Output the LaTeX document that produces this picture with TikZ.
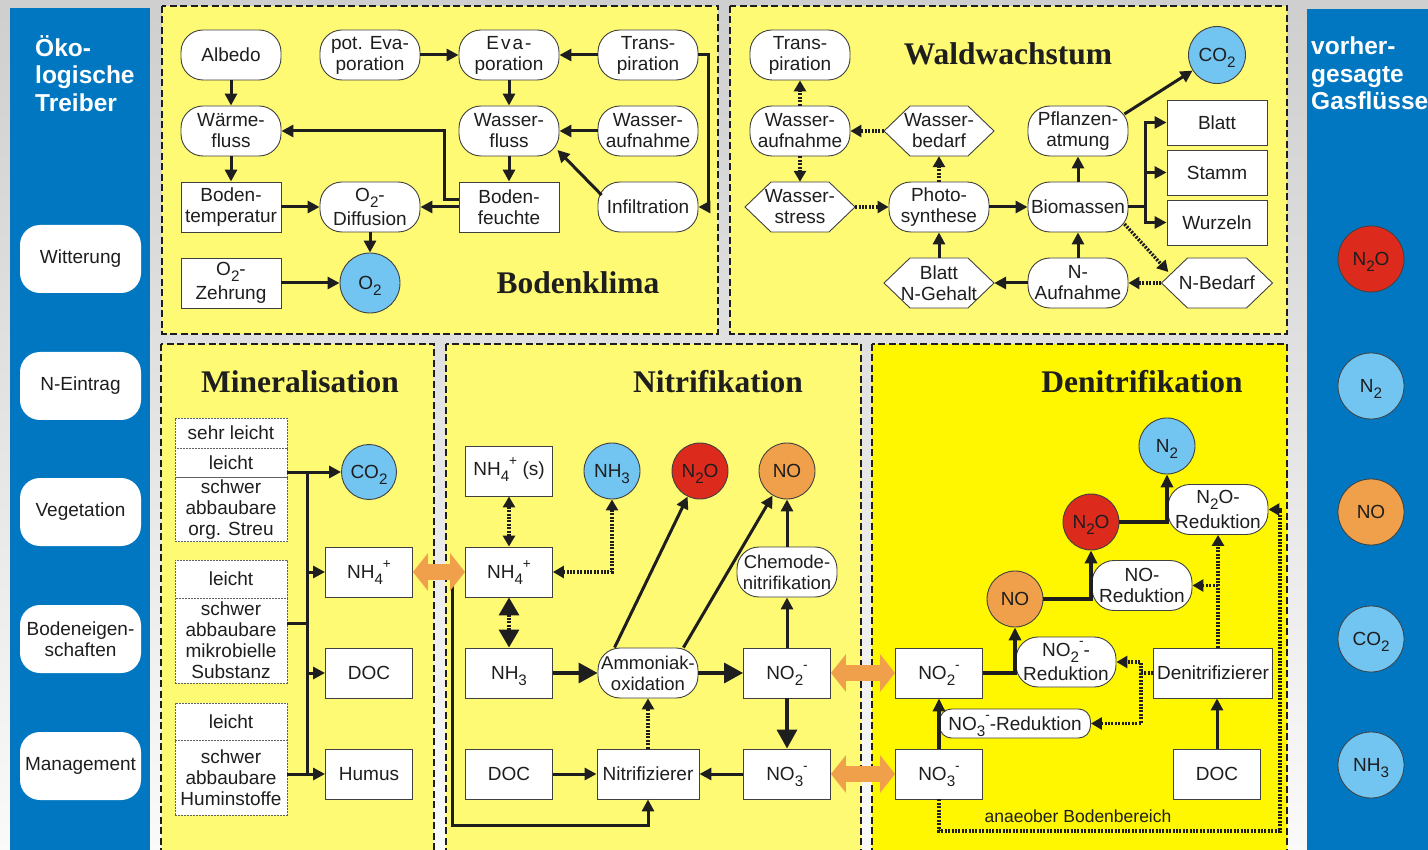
\documentclass[tikz,border=0pt]{standalone}
\usepackage{fontspec}
\usepackage{graphicx}
\setmainfont{Liberation Sans}
\newfontfamily\serifbf{Liberation Serif}
\usetikzlibrary{arrows.meta,calc}
\definecolor{bluep}{HTML}{0077C0}
\definecolor{ylw}{HTML}{FFFA73}
\definecolor{ylwD}{HTML}{FFF700}
\definecolor{lblue}{HTML}{72C4F1}
\definecolor{redc}{HTML}{DC2B1D}
\definecolor{orng}{HTML}{F0A04A}
\definecolor{ink}{HTML}{1E1E1E}
\newcommand\sbs[1]{\smash{\raisebox{-0.32em}{\scalebox{0.8}{#1}}}}
\newcommand\sps[1]{\smash{\raisebox{0.55em}{\scalebox{0.72}{#1}}}}
\newcommand\ion[2]{\sbs{#1}\sps{#2}}
\newcommand\hexnode[5]{%
  \filldraw[hexshape] (#2-#4,#3) -- (#2-#4+26,#3-25) -- (#2+#4-26,#3-25) -- (#2+#4,#3) -- (#2+#4-26,#3+25) -- (#2-#4+26,#3+25) -- cycle;
  \node[hextxt, minimum width={2*#4pt}] (#1) at (#2,#3) {#5};%
}
\tikzset{
  txt/.style={font=\fontsize{19}{21}\selectfont, text=ink, align=center, inner sep=0pt},
  subl/.style={font=\fontsize{19}{24.5}\selectfont},
  rbox/.style={txt, draw=ink!85, line width=0.9pt, fill=white, rounded corners=22pt, minimum width=100pt, minimum height=50pt},
  sbox/.style={txt, draw=ink!85, line width=0.9pt, fill=white, minimum width=100pt, minimum height=50pt},
  nbox/.style={sbox, minimum width=87pt},
  circ/.style={txt, circle, draw=ink!85, line width=0.9pt, minimum size=56pt},
  hextxt/.style={txt, minimum height=50pt},
  hexshape/.style={fill=white, draw=ink!85, line width=0.9pt},
  lbox/.style={font=\fontsize{19}{21}\selectfont, text=ink, align=center, fill=white, rounded corners=20pt, minimum width=121pt, minimum height=68pt, inner sep=0pt},
  rcirc/.style={circle, draw=ink!85, line width=0.8pt, minimum size=66pt, font=\fontsize{19}{21}\selectfont, text=ink, inner sep=0pt},
  mcell/.style={txt, draw=ink!70, line width=0.7pt, dash pattern=on 2pt off 1pt, fill=white, minimum width=112pt},
  panel/.style={fill=ylw, draw=ink, line width=1.4pt, dash pattern=on 7pt off 3.5pt},
  ttl/.style={font=\serifbf\fontsize{31.5}{34}\selectfont\bfseries, text=ink, inner sep=0pt},
  conn/.style={draw=ink, line width=3pt},
  arr/.style={conn, -{Triangle[length=12pt,width=12pt]}},
  thk/.style={draw=ink, line width=3.2pt, -{Triangle[length=13pt,width=12pt]}},
  bigarr/.style={draw=ink, line width=3.4pt, -{Triangle[length=19pt,width=20pt]}},
  dotln/.style={draw=ink, line width=3.4pt, dash pattern=on 2pt off 1.4pt},
  darr/.style={dotln, -{Triangle[length=11pt,width=12pt]}},
  ddarr/.style={dotln, {Triangle[length=11pt,width=12pt]}-{Triangle[length=11pt,width=12pt]}},
  bigddarr/.style={dotln, {Triangle[length=18pt,width=20pt]}-{Triangle[length=18pt,width=20pt]}},
  oarr/.style={draw=orng, line width=16pt, {Triangle[length=15pt,width=37pt]}-{Triangle[length=15pt,width=37pt]}},
}
\begin{document}
\begin{tikzpicture}[x=1pt,y=-1pt]
\useasboundingbox (0,0) rectangle (1428,850);
\clip (0,0) rectangle (1428,850);
\shade[top color=gray!38, bottom color=gray!4] (0,0) rectangle (1428,850);
% side panels
\fill[bluep] (10,8) rectangle (150,860);
\fill[bluep] (1307,9) rectangle (1440,860);
\node[anchor=north west, font=\fontsize{24.5}{27.5}\selectfont\bfseries, text=white, align=left, inner sep=0pt] (lefttitle) at (35,35) {Öko-\\logische\\Treiber};
\node[anchor=north west, font=\fontsize{24.5}{27.5}\selectfont\bfseries, text=white, align=left, inner sep=0pt] (righttitle) at (1311,37) {vorher-\\gesagte\\Gasflüsse};
\node[lbox] (witt) at (80.5,259) {Witterung};
\node[lbox] (neintr) at (80.5,386) {N-Eintrag};
\node[lbox] (veget) at (80.5,512) {Vegetation};
\node[lbox] (boden) at (80.5,639) {Bodeneigen-\\schaften};
\node[lbox] (manag) at (80.5,766) {Management};
\node[rcirc, fill=redc] (gN2O) at (1371,259) {N\sbs{2}O};
\node[rcirc, fill=lblue] (gN2) at (1371,386) {N\sbs{2}};
\node[rcirc, fill=orng] (gNO) at (1371,512) {NO};
\node[rcirc, fill=lblue] (gCO2) at (1371,639) {CO\sbs{2}};
\node[rcirc, fill=lblue] (gNH3) at (1371,765) {NH\sbs{3}};
% panels
\filldraw[panel] (162,6) rectangle (718,334);
\filldraw[panel] (730,6) rectangle (1287,334);
\filldraw[panel] (161,344) rectangle (434,870);
\filldraw[panel] (446,344) rectangle (861,870);
\filldraw[panel, fill=ylwD] (872,344) rectangle (1287,870);
% ===== Bodenklima
\node[rbox] (albedo) at (231,55) {Albedo};
\node[rbox] (potevap) at (370,55) {pot. Eva-\\poration};
\node[rbox] (evap) at (509,55) {E\kern2pt v\kern2pt a\kern2pt -\\poration};
\node[rbox] (transpA) at (648,55) {Trans-\\piration};
\node[rbox] (waerme) at (231,131) {Wärme-\\fluss};
\node[rbox] (wfluss) at (509,131) {Wasser-\\fluss};
\node[rbox] (waufnA) at (648,131) {Wasser-\\aufnahme};
\node[sbox] (btemp) at (231,207) {Boden-\\temperatur};
\node[rbox, subl] (otwodiff) at (370,207) {O\sbs{2}-\\Diffusion};
\node[sbox] (bfeucht) at (509,207) {Boden-\\feuchte};
\node[rbox] (infil) at (648,207) {Infiltration};
\node[sbox, subl] (otwozehr) at (231,283) {O\sbs{2}-\\Zehrung};
\node[circ, fill=lblue, minimum size=60pt] (otwo) at (370,283) {O\sbs{2}};
\node[ttl] (tBoden) at (578,283) {Bodenklima};
\draw[arr] (albedo) -- (waerme);
\draw[arr] (waerme) -- (btemp);
\draw[arr] (btemp) -- (otwodiff);
\draw[arr] (otwodiff) -- (otwo);
\draw[arr] (otwozehr) -- (otwo);
\draw[arr] (potevap) -- (evap);
\draw[arr] (transpA) -- (evap);
\draw[arr] (evap) -- (wfluss);
\draw[arr] (waufnA) -- (wfluss);
\draw[arr] ($(infil.west)+(4,-12)$) -- ($(wfluss.east)+(-2,19)$);
\draw[arr] (wfluss) -- (bfeucht);
\draw[arr] (bfeucht.west) -- (otwodiff.east);
\draw[arr] ($(bfeucht.west)+(0,-7)$) -- ++(-14,0) |- (waerme.east);
\draw[arr] (transpA.east) -- ++(10,0) |- (infil.east);
% ===== Waldwachstum
\node[rbox] (transpB) at (800,55) {Trans-\\piration};
\node[rbox] (waufnB) at (800,131) {Wasser-\\aufnahme};
\hexnode{wbedarf}{939}{131}{55}{Wasser-\\bedarf}
\hexnode{wstress}{800}{207}{55}{Wasser-\\stress}
\node[rbox] (photo) at (939,207) {Photo-\\synthese};
\hexnode{blattn}{939}{283}{55}{Blatt\\N-Gehalt}
\node[rbox] (pflatm) at (1078,131) {Pflanzen-\\atmung};
\node[rbox] (biom) at (1078,207) {Biomassen};
\node[rbox] (naufn) at (1078,283) {N-\\Aufnahme};
\hexnode{nbedarf}{1217}{283}{55.5}{N-Bedarf}
\node[circ, fill=lblue, minimum size=57pt] (cotwoW) at (1217,55) {CO\sbs{2}};
\node[sbox, minimum height=45pt] (blatt) at (1217,122.5) {Blatt};
\node[sbox, minimum height=45pt] (stamm) at (1217,172.5) {Stamm};
\node[sbox, minimum height=45pt] (wurzeln) at (1217,222.5) {Wurzeln};
\node[ttl] (tWald) at (1008,54) {Waldwachstum};
\draw[darr] (waufnB) -- (transpB);
\draw[darr] (wbedarf) -- (waufnB);
\draw[darr] (waufnB) -- (wstress);
\draw[darr] (wstress) -- (photo);
\draw[darr] (photo) -- (wbedarf);
\draw[arr] (blattn) -- (photo);
\draw[arr] (naufn) -- (blattn);
\draw[arr] (photo) -- (biom);
\draw[arr] (biom) -- (pflatm);
\draw[arr] (naufn) -- (biom);
\draw[arr] ($(pflatm.east)+(-4,-17)$) -- (cotwoW);
\draw[arr] (biom.east) -- ++(17,0) |- (blatt.west);
\draw[arr] (biom.east) -- ++(17,0) |- (stamm.west);
\draw[arr] (biom.east) -- ++(17,0) |- (wurzeln.west);
\draw[darr] ($(biom.east)+(-4,17)$) -- ($(nbedarf.west)+(7,-11)$);
\draw[darr] (nbedarf) -- (naufn);
% ===== Mineralisation
\node[ttl] (tMin) at (300,382) {Mineralisation};
\node[mcell, minimum height=30pt] (seLa) at (231,433) {sehr leicht};
\node[mcell, minimum height=29pt] (leA) at (231,462.5) {leicht};
\node[mcell, minimum height=64pt] (swA) at (231,509.5) {schwer\\abbaubare\\org. Streu};
\node[mcell, minimum height=38pt] (leB) at (231,579) {leicht};
\node[mcell, minimum height=85pt] (swB) at (231,640.5) {schwer\\abbaubare\\mikrobielle\\Substanz};
\node[mcell, minimum height=37pt] (leC) at (231,721.5) {leicht};
\node[mcell, minimum height=75pt] (swC) at (231,777.5) {schwer\\abbaubare\\Huminstoffe};
\node[circ, fill=lblue, minimum size=55pt] (cotwoM) at (369,472) {CO\sbs{2}};
\node[nbox] (nhfourM) at (369,572) {NH\ion{4}{+}};
\node[nbox] (docM) at (369,673) {DOC};
\node[nbox] (humus) at (369,774) {Humus};
\coordinate (busT) at (307,472);
\coordinate (busB) at (307,774);
\draw[conn] (busT) -- (busB);
\draw[arr] (leA.east |- cotwoM.west) -- (cotwoM.west);
\draw[conn] ($(swB.east)+(0,-17)$) -- ++(20,0);
\draw[arr] (swC.east |- humus.west) -- (humus.west);
\draw[arr] (busT |- nhfourM.west) -- (nhfourM.west);
\draw[arr] (busT |- docM.west) -- (docM.west);
% ===== Nitrifikation
\node[ttl] (tNit) at (718,382) {Nitrifikation};
\node[nbox] (nhfourS) at (509,471) {NH\ion{4}{+} (s)};
\node[circ, fill=lblue] (nhthreeC) at (612,471) {NH\sbs{3}};
\node[circ, fill=redc] (ntwooN) at (700,471) {N\sbs{2}O};
\node[circ, fill=orng] (noN) at (787,471) {NO};
\node[nbox] (nhfourN) at (509,572) {NH\ion{4}{+}};
\node[nbox] (nhthreeN) at (509,673) {NH\sbs{3}};
\node[rbox, font=\fontsize{18.5}{21}\selectfont] (amox) at (648,673) {Ammoniak-\\oxidation};
\node[nbox] (notwoN) at (787,673) {NO\ion{2}{-}};
\node[rbox, font=\fontsize{18.5}{21}\selectfont] (chemo) at (787,572) {Chemode-\\nitrifikation};
\node[nbox] (docN) at (509,774) {DOC};
\node[sbox, minimum width=102pt] (nitrif) at (648,774) {Nitrifizierer};
\node[nbox] (nothreeN) at (787,774) {NO\ion{3}{-}};
\draw[ddarr] (nhfourS) -- (nhfourN);
\draw[ddarr] (nhfourN.east) -| (nhthreeC.south);
\draw[bigddarr] (nhfourN) -- (nhthreeN);
\draw[bigarr] (nhthreeN) -- (amox);
\draw[bigarr] (amox) -- (notwoN);
\draw[arr] ($(amox.north west)+(17,0)$) -- (ntwooN);
\draw[arr] ($(amox.north east)+(-15,0)$) -- (noN);
\draw[arr] (notwoN) -- (chemo);
\draw[arr] (chemo) -- (noN);
\draw[bigarr] (notwoN) -- (nothreeN);
\draw[arr] (nothreeN) -- (nitrif);
\draw[arr] (docN) -- (nitrif);
\draw[darr] (nitrif) -- (amox);
\draw[arr] ($(nhfourN.west)+(-13,12)$) -- ($(nhfourN.west)+(-13,253)$) -| (nitrif.south);
% ===== Denitrifikation
\node[ttl] (tDen) at (1142,382) {Denitrifikation};
\node[circ, fill=lblue] (ntwoD) at (1167,446) {N\sbs{2}};
\node[circ, fill=redc] (ntwooD) at (1091,522) {N\sbs{2}O};
\node[circ, fill=orng] (noD) at (1015,599) {NO};
\node[rbox, subl] (ntwooRed) at (1218,509.5) {N\sbs{2}O-\\Reduktion};
\node[rbox] (noRed) at (1142,585.5) {NO-\\Reduktion};
\node[rbox, subl] (notwoRed) at (1066,662) {NO\ion{2}{-}-\\Reduktion};
\node[nbox] (notwoD) at (939,673) {NO\ion{2}{-}};
\node[sbox, minimum width=119pt] (denit) at (1213,673) {Denitrifizierer};
\node[rbox, minimum width=151pt, minimum height=29pt, rounded corners=12pt] (nothreeRed) at (1015,723.5) {NO\ion{3}{-}-Reduktion};
\node[nbox] (nothreeD) at (939,774) {NO\ion{3}{-}};
\node[nbox] (docD) at (1217,774) {DOC};
\node[txt, font=\fontsize{17.5}{20}\selectfont] (anaer) at (1078,816) {anaeober Bodenbereich};
\draw[thk] (notwoD.east) -| (noD.south);
\draw[thk] (noD.east) -| (ntwooD.south);
\draw[thk] (ntwooD.east) -| (ntwoD.south);
\draw[thk] (nothreeD) -- (notwoD);
\draw[arr] (docD.north) -- (docD.north |- denit.south);
\coordinate (dj) at (1141,673);
\draw[darr] (denit.west) -- (dj) |- (notwoRed.east);
\draw[darr] (dj) |- (nothreeRed.east);
\draw[darr] (ntwooRed.south |- denit.north) -- (ntwooRed.south);
\draw[darr] (ntwooRed.south |- noRed.east) -- (noRed.east);
\coordinate (anaC) at (1280,831);
\draw[darr] (nothreeD.south) |- (anaC) |- (ntwooRed.east);
% orange exchange arrows
\draw[oarr] (nhfourM.east) -- (nhfourN.west);
\draw[oarr] (notwoN.east) -- (notwoD.west);
\draw[oarr] (nothreeN.east) -- (nothreeD.west);
\end{tikzpicture}
\end{document}
